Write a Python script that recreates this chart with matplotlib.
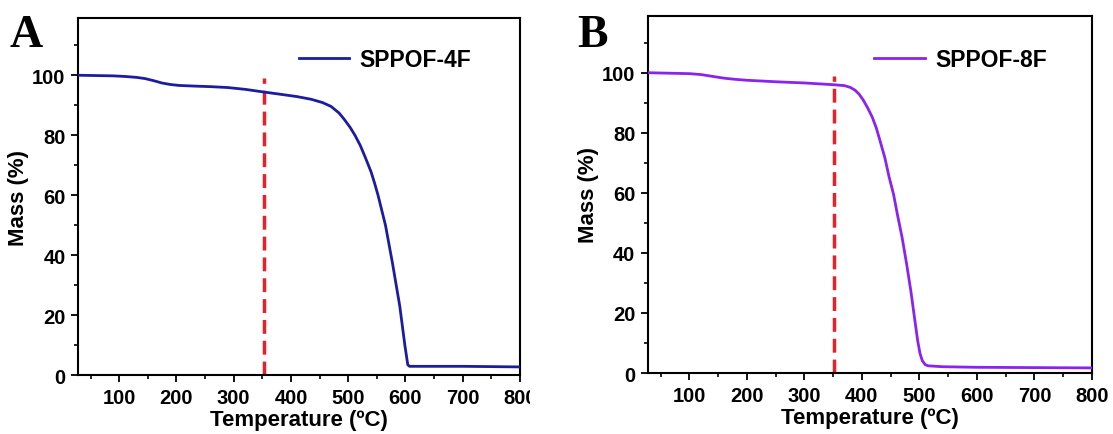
import matplotlib
matplotlib.use("Agg")
import matplotlib.pyplot as plt
import numpy as np
from matplotlib.ticker import MultipleLocator
from matplotlib.transforms import Bbox, TransformedBbox

# SPPOF-4F TGA curve
temp_4f = [30, 60, 90, 110, 130, 145, 160, 175, 190, 205, 230, 260, 290, 320,
           353, 380, 410, 435, 455, 470, 484, 493, 503, 512, 521, 530, 540, 546,
           552, 565, 577, 590, 599, 604, 607, 650, 700, 800]
mass_4f = [100, 99.9, 99.8, 99.6, 99.3, 98.9, 98.2, 97.4, 96.9, 96.6, 96.4, 96.2,
           95.9, 95.3, 94.4, 93.7, 92.9, 92.0, 90.9, 89.6, 87.4, 85.3, 82.7, 79.9,
           76.6, 72.5, 67.7, 64.0, 60.0, 50.0, 37.6, 23.0, 9.8, 3.4, 2.9, 2.9,
           2.9, 2.7]

# SPPOF-8F TGA curve
temp_8f = [30, 100, 120, 140, 160, 180, 200, 250, 300, 352, 370, 380, 388, 395,
           402, 410, 418, 425, 432, 440, 447, 455, 462, 470, 478, 485, 491, 497,
           501, 505, 510, 515, 540, 600, 700, 800]
mass_8f = [100, 99.7, 99.4, 98.8, 98.2, 97.8, 97.5, 97.0, 96.6, 96.0, 95.7, 95.1,
           94.2, 92.9, 91.0, 88.3, 85.2, 81.6, 77.0, 71.6, 65.5, 59.5, 52.5, 45.0,
           36.0, 27.4, 19.0, 10.7, 6.5, 4.1, 2.8, 2.4, 2.1, 1.9, 1.8, 1.7]

marker_temp = 352
marker_top = 99

plt.rcParams["font.family"] = ["Liberation Sans", "DejaVu Sans"]
plt.rcParams["font.weight"] = "bold"


def tga_panel(ax, temp, mass, color, label, legend_pos):
    ax.plot(temp, mass, color=color, lw=2.0, label=label, zorder=3)
    ax.plot([marker_temp, marker_temp], [0, marker_top], color="#e8202a",
            lw=2.5, linestyle=(0, (4, 2)), zorder=2)

    ax.set_xlim(28, 800)
    ax.set_ylim(0, 119)
    ax.set_xticks(np.arange(100, 801, 100))
    ax.set_yticks(np.arange(0, 101, 20))
    ax.xaxis.set_minor_locator(MultipleLocator(50))
    ax.yaxis.set_minor_locator(MultipleLocator(10))
    ax.tick_params(which="major", direction="out", length=5, width=1.3,
                   labelsize=14.5, pad=4)
    ax.tick_params(which="minor", direction="out", length=3, width=1.2)
    for lab in ax.get_xticklabels() + ax.get_yticklabels():
        lab.set_fontweight("bold")
    for sp in ax.spines.values():
        sp.set_linewidth(1.5)

    ax.set_xlabel("Temperature (ºC)", fontsize=16, fontweight="bold", labelpad=2)
    ax.set_ylabel("Mass (%)", fontsize=16, fontweight="bold", labelpad=2)

    # legend
    leg = ax.legend(loc="center left", bbox_to_anchor=legend_pos, frameon=False,
                    borderaxespad=0, borderpad=0, handlelength=2.2,
                    handletextpad=0.45, prop={"size": 16.5, "weight": "bold"})
    return leg


def main():
    fig = plt.figure(figsize=(11.13, 4.35), dpi=100)
    ax_a = fig.add_axes([0.0701, 0.1356, 0.3971, 0.82])
    ax_b = fig.add_axes([0.5822, 0.1402, 0.3989, 0.8214])

    tga_panel(ax_a, temp_4f, mass_4f, "#1c1ca0", "SPPOF-4F", (0.50, 0.885))
    tga_panel(ax_b, temp_8f, mass_8f, "#8a22f0", "SPPOF-8F", (0.51, 0.878))

    # panel A was cropped just past its right edge
    clip = TransformedBbox(Bbox([[0, 0], [530 / 1113, 1]]), fig.transFigure)
    for tick in ax_a.xaxis.get_major_ticks():
        tick.label1.set_clip_on(True)
        tick.label1.set_clip_box(clip)

    fig.text(9 / 1113, 1 - 47 / 435, "A", family="Liberation Serif",
             fontweight="bold", fontsize=33, ha="left", va="baseline")
    fig.text(577 / 1113, 1 - 47 / 435, "B", family="Liberation Serif",
             fontweight="bold", fontsize=33, ha="left", va="baseline")

    fig.savefig("out.png", dpi=100)


if __name__ == "__main__":
    main()
